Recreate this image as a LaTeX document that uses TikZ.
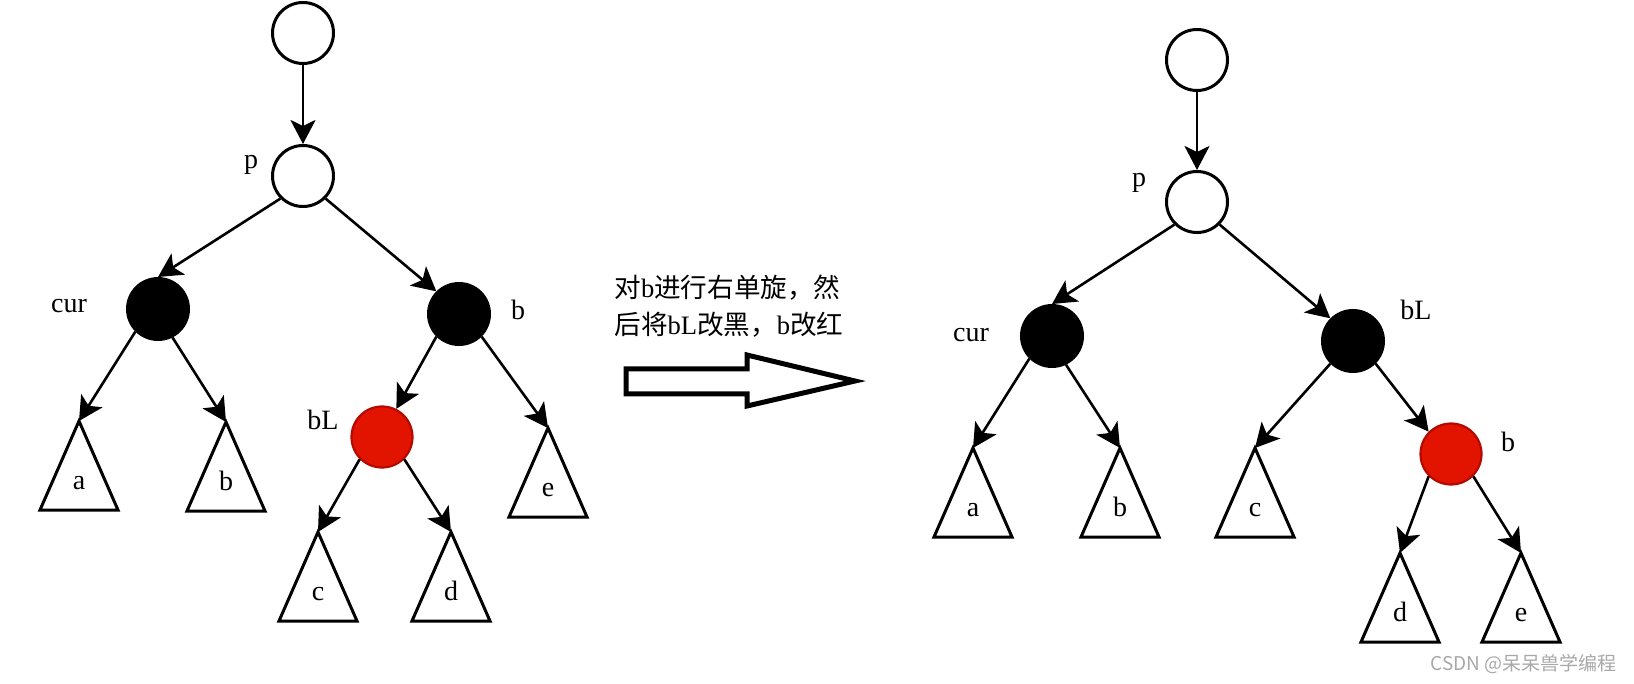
\documentclass[tikz,border=0pt]{standalone}
\usepackage{fontspec}
\setmainfont{Liberation Serif}
\newfontfamily\cjk{Noto Sans CJK SC}
\usetikzlibrary{arrows.meta}
\definecolor{myred}{HTML}{E21400}
\definecolor{myredborder}{HTML}{B40A00}
\definecolor{wmgray}{HTML}{A8A8A8}
\newcommand{\subtr}[4]{%
  \coordinate (#1) at (#2,#3);
  \draw[tri] (#1) -- ++(-39,89) -- ++(78,0) -- cycle;
  \node[lbl, anchor=base] (#1t) at (#2,#3+68) {#4};
}
\begin{document}
\begin{tikzpicture}[x=0.5pt,y=-0.5pt,
  rb/.style={circle, draw=black, line width=1.5pt, minimum size=30.5pt, inner sep=0pt},
  whitenode/.style={rb, fill=white},
  blacknode/.style={rb, fill=black},
  rednode/.style={rb, fill=myred, draw=myredborder, line width=1.1pt},
  lbl/.style={font=\fontsize{14pt}{16pt}\selectfont, inner sep=0pt},
  tri/.style={line width=1.5pt, line join=miter},
  edge/.style={line width=1.3pt, -{Stealth[length=12pt,width=12.5pt,inset=3pt]}},
  blockarrow/.style={line width=2.5pt, line join=miter, fill=white},
]
\useasboundingbox (0,0) rectangle (1634,684);

% ---------------- left tree ----------------
\node[whitenode] (Ltop) at (303,33) {};
\node[whitenode] (Lp) at (303,176) {};
\node[blacknode] (Lcur) at (158,309) {};
\node[blacknode] (Lb) at (459,314) {};
\node[rednode] (LbL) at (382,437) {};

\node[lbl] (Lplbl) at (251,165) {p};
\node[lbl] (Lcurlbl) at (69,306) {cur};
\node[lbl] (Lblbl) at (518,310) {b};
\node[lbl] (LbLlbl) at (323,420) {bL};

\subtr{La}{79}{421}{a}
\subtr{Lbb}{226}{422}{b}
\subtr{Le}{548}{428}{e}
\subtr{Lc}{318}{532}{c}
\subtr{Ld}{451}{532}{d}

\draw[edge] (Ltop.south) -- (Lp.north);
\draw[edge] (Lp.225) -- (Lcur.north);
\draw[edge] (Lp.-45) -- (Lb.135);
\draw[edge] (Lcur.225) -- (La);
\draw[edge] (Lcur.-63) -- (Lbb);
\draw[edge] (Lb.225) -- (LbL.63);
\draw[edge] (Lb.-45) -- (Le);
\draw[edge] (LbL.225) -- (Lc);
\draw[edge] (LbL.-45) -- (Ld);

% ---------------- middle ----------------
\node[lbl, anchor=west, align=left, font=\fontsize{13.3pt}{18.5pt}\selectfont] (txt) at (614,306)
  {{\cjk 对}b{\cjk 进行右单旋，然}\\{\cjk 后将}bL{\cjk 改黑，}b{\cjk 改红}};
\draw[blockarrow] (626,369) -- (747,369) -- (747,355) -- (855,381) -- (747,406) -- (747,394) -- (626,394) -- cycle;

% ---------------- right tree ----------------
\node[whitenode] (Rtop) at (1197,60) {};
\node[whitenode] (Rp) at (1197,202) {};
\node[blacknode] (Rcur) at (1052,336) {};
\node[blacknode] (RbL) at (1353,341) {};
\node[rednode] (Rb) at (1451,454) {};

\node[lbl] (Rplbl) at (1139,183) {p};
\node[lbl] (Rcurlbl) at (971,335) {cur};
\node[lbl] (RbLlbl) at (1416,310) {bL};
\node[lbl] (Rblbl) at (1508,442) {b};

\subtr{Ra}{973}{448}{a}
\subtr{Rbb}{1120}{448}{b}
\subtr{Rc}{1255}{448}{c}
\subtr{Rd}{1400}{553}{d}
\subtr{Re}{1521}{553}{e}

\draw[edge] (Rtop.south) -- (Rp.north);
\draw[edge] (Rp.225) -- (Rcur.north);
\draw[edge] (Rp.-45) -- (RbL.135);
\draw[edge] (Rcur.225) -- (Ra);
\draw[edge] (Rcur.-64) -- (Rbb);
\draw[edge] (RbL.225) -- (Rc);
\draw[edge] (RbL.-45) -- (Rb.135);
\draw[edge] (Rb.225) -- (Rd);
\draw[edge] (Rb.-45) -- (Re);

% watermark
\node[anchor=east, inner sep=0pt, text=wmgray, font=\cjk\fontsize{9.5pt}{10pt}\selectfont] (wm) at (1617,664) {CSDN @呆呆兽学编程};
\end{tikzpicture}
\end{document}
